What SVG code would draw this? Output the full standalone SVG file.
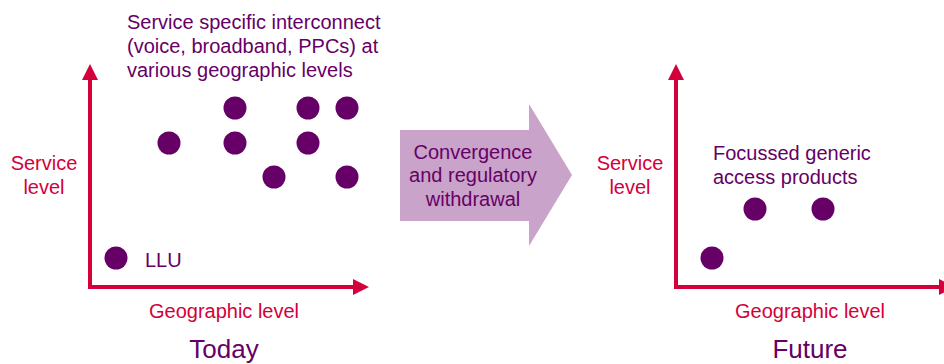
<svg xmlns="http://www.w3.org/2000/svg" width="944" height="364" viewBox="0 0 944 364">
<style>
.ax{stroke:#d4003c;stroke-width:4;fill:none}
.ah{fill:#d4003c}
.dot{fill:#660066}
.t{font-family:"Liberation Sans",Arial,sans-serif;font-size:20px;fill:#660066}
.r{font-family:"Liberation Sans",Arial,sans-serif;font-size:20px;fill:#d4003c}
.big{font-family:"Liberation Sans",Arial,sans-serif;font-size:26px;fill:#660066;text-anchor:middle}
.m{text-anchor:middle}
</style>
<rect width="944" height="364" fill="#ffffff"/>
<g id="connectors">
<g id="today-axes">
<path class="ax" d="M90,78 V287 H355"/>
<polygon class="ah" points="90,64 98,80 82,80"/>
<polygon class="ah" points="369,287 353,279 353,295"/>
</g>
<g id="future-axes">
<path class="ax" d="M676,78 V287 H940"/>
<polygon class="ah" points="676,64 684,80 668,80"/>
<polygon class="ah" points="955,287 939,279 939,295"/>
</g>
</g>
<g id="today">
<text class="r m" x="44" y="170">Service</text>
<text class="r m" x="44" y="194">level</text>
<text class="r m" x="224" y="318">Geographic level</text>
<text class="big" x="224" y="358">Today</text>
<text class="t" x="127" y="29">Service specific interconnect</text>
<text class="t" x="127" y="53">(voice, broadband, PPCs) at</text>
<text class="t" x="127" y="77">various geographic levels</text>
<g id="today-dots">
<circle class="dot" cx="235" cy="108" r="11.5"/>
<circle class="dot" cx="308" cy="108" r="11.5"/>
<circle class="dot" cx="347" cy="108" r="11.5"/>
<circle class="dot" cx="169" cy="143" r="11.5"/>
<circle class="dot" cx="235" cy="143" r="11.5"/>
<circle class="dot" cx="308" cy="143" r="11.5"/>
<circle class="dot" cx="274" cy="177" r="11.5"/>
<circle class="dot" cx="347" cy="177" r="11.5"/>
</g>
<g id="llu">
<circle class="dot" cx="116" cy="258" r="11.5"/>
<text class="t" x="145" y="267">LLU</text>
</g>
</g>
<g id="transition">
<polygon points="400,130 529,130 529,104 572,175 529,246 529,221 400,221" fill="#c9a3c9"/>
<text class="t m" x="473" y="159">Convergence</text>
<text class="t m" x="473" y="182">and regulatory</text>
<text class="t m" x="473" y="206">withdrawal</text>
</g>
<g id="future">
<text class="r m" x="630" y="170">Service</text>
<text class="r m" x="630" y="194">level</text>
<text class="r m" x="810" y="318">Geographic level</text>
<text class="big" x="810" y="358">Future</text>
<text class="t" x="713" y="160">Focussed generic</text>
<text class="t" x="713" y="184">access products</text>
<g id="future-dots">
<circle class="dot" cx="755" cy="209" r="11.5"/>
<circle class="dot" cx="823" cy="209" r="11.5"/>
<circle class="dot" cx="712" cy="258" r="11.5"/>
</g>
</g>
</svg>
